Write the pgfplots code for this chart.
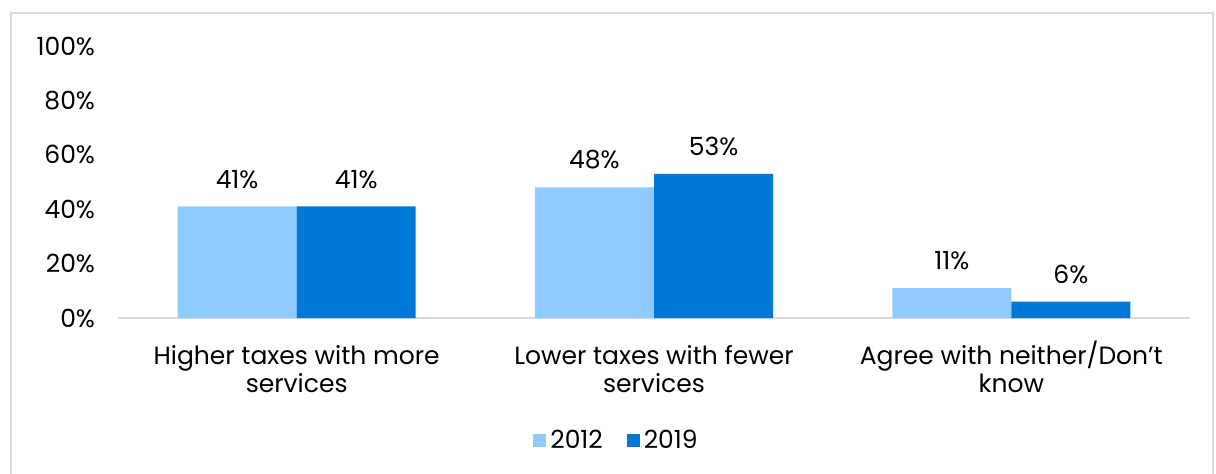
\documentclass[border=0pt]{standalone}
\usepackage{fontspec}
\setmainfont{Poppins}
\usepackage{pgfplots}
\pgfplotsset{compat=1.18}
\definecolor{lb}{RGB}{143,203,255}
\definecolor{db}{RGB}{0,120,215}
\definecolor{gr}{RGB}{217,217,217}
\begin{document}
\begin{tikzpicture}
\useasboundingbox (0,0) rectangle (608pt,236.5pt);
\draw[gr,line width=1pt] (5.5pt,-5pt) rectangle (606.5pt,230pt);
\begin{axis}[
  at={(59pt,77.5pt)}, anchor=south west,
  scale only axis, width=536pt, height=136pt,
  xmin=-0.5, xmax=2.5, ymin=0, ymax=100,
  axis x line*=bottom, axis y line*=left,
  x axis line style={gr, line width=1pt, -},
  y axis line style={draw=none},
  /pgf/number format/assume math mode=true,
  ybar, bar width=0.333,
  xtick={0,1,2}, xticklabels={Higher taxes with more\\services, Lower taxes with fewer\\services, Agree with neither/Don’t\\know},
  xticklabel style={align=center, font=\fontsize{12.5}{14}\selectfont, anchor=base, yshift=-37pt},
  major tick length=0pt,
  ytick={0,20,40,60,80,100},
  yticklabels={0\%,20\%,40\%,60\%,80\%,100\%},
  yticklabel style={font=\fontsize{12.5}{14}\selectfont, xshift=-8pt},
  nodes near coords={\pgfmathprintnumber{\pgfplotspointmeta}\%},
  nodes near coords style={font=\fontsize{12.5}{14}\selectfont, black, yshift=5.5pt},
  legend style={at={(0.466,-0.452)}, anchor=center, draw=none, legend columns=2, font=\fontsize{12.5}{14}\selectfont, /tikz/every even column/.append style={column sep=10pt}},
  legend cell align=left,
  area legend,
  legend image code/.code={\fill[#1] (0pt,-3.2pt) rectangle (6.5pt,3.3pt);},
]
\addplot[fill=lb, draw=none, bar shift=-0.1667] coordinates {(0,41) (1,48) (2,11)};
\addplot[fill=db, draw=none, bar shift=0.1667] coordinates {(0,41) (1,53) (2,6)};
\legend{2012,2019}
\end{axis}
\end{tikzpicture}
\end{document}
